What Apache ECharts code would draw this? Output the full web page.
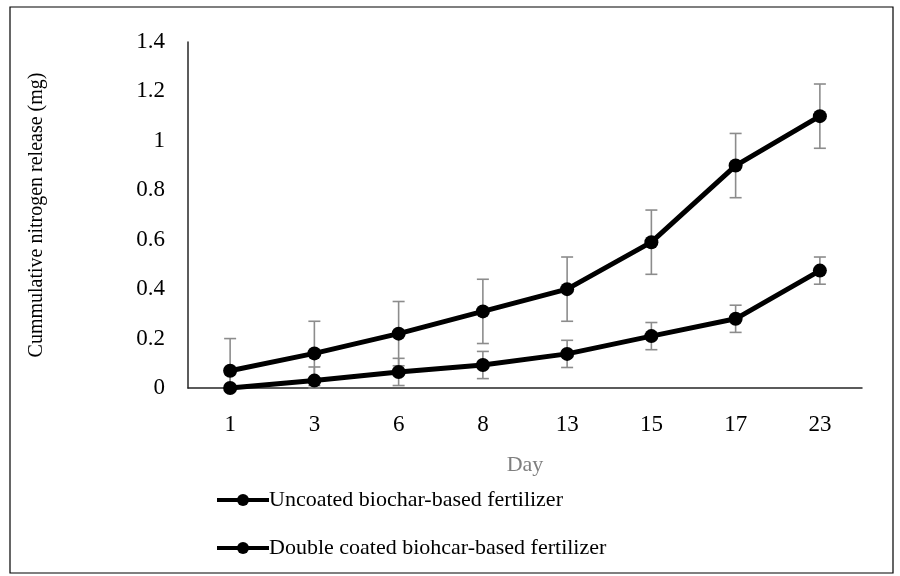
<!DOCTYPE html>
<html><head><meta charset="utf-8">
<script src="https://cdn.jsdelivr.net/npm/echarts@6/dist/echarts.min.js"></script>
<style>html,body{margin:0;padding:0;background:#fff}#c{width:900px;height:576px}</style>
</head><body><div id="c"></div>
<script>
var days = ['1','3','6','8','13','15','17','23'];
var uncoated = [0.07, 0.14, 0.22, 0.31, 0.40, 0.59, 0.90, 1.10];
var uncoatedErr = [0.13, 0.13, 0.13, 0.13, 0.13, 0.13, 0.13, 0.13];
var doubleCoated = [0.0, 0.03, 0.065, 0.093, 0.138, 0.21, 0.28, 0.475];
var doubleErr = [0.055, 0.055, 0.055, 0.055, 0.055, 0.055, 0.055, 0.055];
var names = ['Uncoated biochar-based fertilizer', 'Double coated biohcar-based fertilizer'];

var font = 'Liberation Serif';
function errData(vals, errs){
  return vals.map(function(v,i){ return [i, Math.max(0, v - errs[i]), v + errs[i]]; });
}
function errSeries(vals, errs){
  return {
    type: 'custom', silent: true, z: 1,
    data: errData(vals, errs),
    renderItem: function(params, api){
      var x = api.value(0);
      var lo = api.coord([x, api.value(1)]);
      var hi = api.coord([x, api.value(2)]);
      var w = 6;
      var st = {stroke: '#8c8c8c', lineWidth: 1.6, fill: null};
      return {type: 'group', children: [
        {type:'line', shape:{x1:hi[0], y1:hi[1], x2:lo[0], y2:lo[1]}, style: st},
        {type:'line', shape:{x1:hi[0]-w, y1:hi[1], x2:hi[0]+w, y2:hi[1]}, style: st},
        {type:'line', shape:{x1:lo[0]-w, y1:lo[1], x2:lo[0]+w, y2:lo[1]}, style: st}
      ]};
    }
  };
}
function lineSeries(name, vals){
  return {
    name: name, type: 'line', data: vals, z: 3,
    symbol: 'circle', symbolSize: 14,
    lineStyle: {color: '#000', width: 5},
    itemStyle: {color: '#000'},
    emphasis: {disabled: true}
  };
}
var chart = echarts.init(document.getElementById('c'));
chart.setOption({
  animation: false,
  backgroundColor: '#fff',
  textStyle: {fontFamily: font},
  graphic: [{type:'rect', shape:{x:10, y:7, width:883, height:566}, style:{fill:null, stroke:'#000', lineWidth:1.2}, z: -1}],
  grid: {left: 188, right: 38, top: 42, bottom: 188},
  legend: {
    orient: 'vertical', left: 210, top: 484, itemGap: 26,
    itemWidth: 52, itemHeight: 15,
    lineStyle: {width: 4, color: '#000'},
    itemStyle: {color: '#000'},
    textStyle: {fontFamily: font, fontSize: 22, color: '#000', padding: [0,0,0,-5]},
    data: names
  },
  xAxis: {
    type: 'category', data: days, boundaryGap: true,
    name: 'Day', nameLocation: 'middle', nameGap: 66,
    nameTextStyle: {fontFamily: font, fontSize: 22, color: '#7f7f7f'},
    axisLine: {lineStyle: {color: '#262626', width: 1.5}},
    axisTick: {show: false},
    axisLabel: {fontFamily: font, fontSize: 23, color: '#000', margin: 25}
  },
  yAxis: {
    type: 'value', min: 0, max: 1.4, interval: 0.2,
    name: 'Cummulative nitrogen release (mg)', nameLocation: 'middle', nameGap: 141,
    nameTextStyle: {fontFamily: font, fontSize: 20, color: '#000'},
    axisLine: {show: true, lineStyle: {color: '#262626', width: 1.5}},
    axisTick: {show: false},
    splitLine: {show: false},
    axisLabel: {fontFamily: font, fontSize: 23, color: '#000', margin: 23}
  },
  series: [
    errSeries(uncoated, uncoatedErr),
    errSeries(doubleCoated, doubleErr),
    lineSeries(names[0], uncoated),
    lineSeries(names[1], doubleCoated)
  ]
});
</script></body></html>
